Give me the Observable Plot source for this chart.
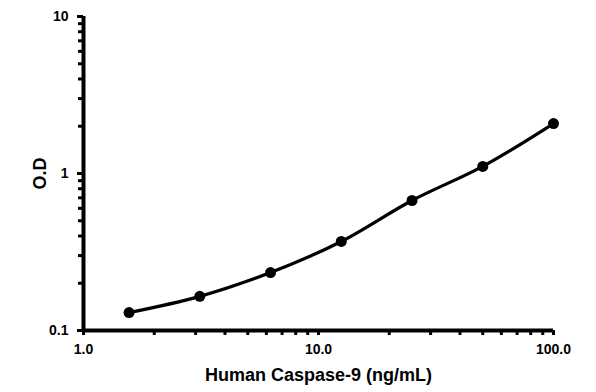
<!DOCTYPE html>
<html><head><meta charset="utf-8">
<script src="https://cdn.jsdelivr.net/npm/d3@7"></script>
<script src="https://cdn.jsdelivr.net/npm/@observablehq/plot@0.6"></script>
<style>body{margin:0;background:#fff;} svg{font-family:Arial,"Liberation Sans",sans-serif;}</style>
</head><body><div id="chart"></div>
<script>
const concentrations = [1.5625, 3.125, 6.25, 12.5, 25, 50, 100];
const od = [0.130, 0.165, 0.234, 0.369, 0.673, 1.11, 2.08];
const xMajorTicks = [1, 10, 100];
const xMajorLabels = ["1.0", "10.0", "100.0"];
const yMajorTicks = [0.1, 1, 10];
const yMajorLabels = ["0.1", "1", "10"];
const xMinorTicks = [2,3,4,5,6,7,8,9,20,30,40,50,60,70,80,90];
const yMinorTicks = [0.2,0.3,0.4,0.5,0.6,0.7,0.8,0.9,2,3,4,5,6,7,8,9];

const data = concentrations.map((c, i) => ({c, od: od[i]}));

const plot = Plot.plot({
  width: 596, height: 392,
  marginLeft: 83, marginRight: 43, marginTop: 16, marginBottom: 62,
  x: {type: "log", domain: [1, 100]},
  y: {type: "log", domain: [0.1, 10]},
  style: {fontFamily: "Arial, 'Liberation Sans', sans-serif", color: "#000", background: "#fff"},
  marks: [
    Plot.axisX(xMinorTicks, {tickSize: 5, strokeWidth: 3, tickFormat: () => "", label: null}),
    Plot.axisX(xMajorTicks, {tickSize: 5, strokeWidth: 3, tickPadding: 9,
      tickFormat: (d) => xMajorLabels[xMajorTicks.indexOf(d)],
      fontSize: 14, fontWeight: "bold",
      label: "Human Caspase-9 (ng/mL)", labelAnchor: "center", labelArrow: "none", labelOffset: 50}),
    Plot.axisY(yMinorTicks, {tickSize: 5, strokeWidth: 3, tickFormat: () => "", label: null}),
    Plot.axisY(yMajorTicks, {tickSize: 6, strokeWidth: 3, tickPadding: 9,
      tickFormat: (d) => yMajorLabels[yMajorTicks.indexOf(d)],
      fontSize: 14, fontWeight: "bold",
      label: "O.D", labelAnchor: "center", labelArrow: "none", labelOffset: 50}),
    Plot.ruleX([1], {stroke: "#000", strokeWidth: 4}),
    Plot.ruleY([0.1], {stroke: "#000", strokeWidth: 4}),
    Plot.line(data, {x: "c", y: "od", curve: "catmull-rom", stroke: "#000", strokeWidth: 3.2}),
    Plot.dot(data, {x: "c", y: "od", r: 5.5, fill: "#000", stroke: "none"})
  ]
});
document.getElementById("chart").appendChild(plot);
plot.querySelectorAll("g[aria-label='x-axis label'] text, g[aria-label='y-axis label'] text").forEach(t => {
  t.setAttribute("font-size", "18");
  t.setAttribute("font-weight", "bold");
});
</script></body></html>
